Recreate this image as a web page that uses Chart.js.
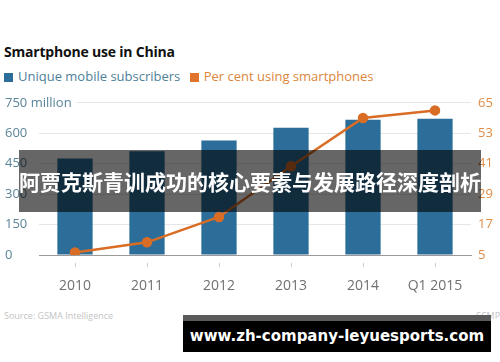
<!DOCTYPE html>
<html>
<head>
<meta charset="utf-8">
<script src="https://cdn.jsdelivr.net/npm/chart.js@4/dist/chart.umd.min.js"></script>
<style>
  body { margin: 0; background: #fff; width: 500px; height: 362px; overflow: hidden; position: relative; font-family: "Open Sans", sans-serif; }
  #title { position: absolute; left: 4px; top: 42px; font: 700 14px "Open Sans", sans-serif; letter-spacing: -0.2px; color: #111; }
  #legend { position: absolute; left: 4px; top: 67px; font: 13px "Open Sans", sans-serif; white-space: nowrap; }
  #legend span.box { display: inline-block; width: 9px; height: 9px; margin-right: 5px; vertical-align: -1px; }
  #wrap { position: absolute; left: 0; top: 88px; width: 500px; height: 220px; }
  #source { position: absolute; left: 4px; top: 309px; font: 9px "Open Sans", sans-serif; color: #c4c4c4; }
  #brand { position: absolute; left: 476px; top: 309px; font: 9px "Open Sans", sans-serif; color: #c4c4c4; }
  #band { position: absolute; left: 19px; top: 150px; width: 462px; height: 62px; background: rgba(0,0,0,0.6);
          color: #fff; font: 700 21px "Noto Sans CJK SC", sans-serif; line-height: 62px; text-align: center; white-space: nowrap; }
  #site { position: absolute; left: 183px; top: 315px; width: 308px; height: 37px; background: #000; border-top: 6px solid #5a5a5a; box-sizing: border-box;
          color: #fff; font: 700 15px "DejaVu Sans", sans-serif; line-height: 31px; text-align: center; white-space: nowrap; }
</style>
</head>
<body>
<div id="title">Smartphone use in China</div>
<div id="legend">
  <span class="box" style="background:#2c6e99"></span><span style="color:#4f7f98">Unique mobile subscribers</span>
  <span class="box" style="background:#e0742a;margin-left:6px"></span><span style="color:#db863c">Per cent using smartphones</span>
</div>
<div id="wrap"><canvas id="smartChart"></canvas></div>
<div id="source">Source: GSMA Intelligence</div>
<div id="brand">SCMP</div>
<div id="band">阿贾克斯青训成功的核心要素与发展路径深度剖析</div>
<div id="site">www.zh-company-leyuesports.com</div>

<script>
// Data
const years = ['2010', '2011', '2012', '2013', '2014', 'Q1 2015'];
const subscribers = [475, 511, 564, 627, 667, 672];   // millions
const smartphoneShare = [6, 10, 20, 40, 59, 62];      // per cent
const leftTicks = [0, 150, 300, 450, 600, 750];
const rightTicks = [5, 17, 29, 41, 53, 65];

function initializeChart() {
    const ctx = document.getElementById('smartChart').getContext('2d');

    return new Chart(ctx, {
        type: 'bar',
        data: {
            labels: years,
            datasets: [
                {
                    type: 'line',
                    label: 'Per cent using smartphones',
                    data: smartphoneShare,
                    yAxisID: 'yRight',
                    borderColor: '#d96d25',
                    backgroundColor: '#d96d25',
                    borderWidth: 2.5,
                    pointRadius: 4,
                    pointHoverRadius: 4,
                    tension: 0,
                    order: 0,
                },
                {
                    label: 'Unique mobile subscribers',
                    data: subscribers,
                    yAxisID: 'yLeft',
                    backgroundColor: '#2c6e99',
                    categoryPercentage: 1,
                    barPercentage: 0.49,
                    order: 1,
                }
            ]
        },
        options: {
            responsive: true,
            maintainAspectRatio: false,
            animation: false,
            layout: { padding: { top: 14, left: 5, right: 0, bottom: 8 } },
            plugins: {
                legend: { display: false },
                tooltip: { enabled: false },
            },
            scales: {
                x: {
                    afterFit: scale => { scale.height = 45; },
                    grid: {
                        drawOnChartArea: false,
                        offset: false,
                        tickLength: 12,
                        tickColor: '#cccccc',
                        tickBorderDash: [0, 7, 6, 20],
                    },
                    border: { color: '#9a9a9a', width: 1 },
                    ticks: {
                        padding: 11,
                        color: '#707070',
                        font: { family: 'Open Sans', size: 14 },
                    },
                },
                yLeft: {
                    position: 'left',
                    min: 0,
                    max: 750,
                    afterFit: scale => { scale.width = 34; },
                    afterBuildTicks: scale => { scale.ticks = leftTicks.map(v => ({ value: v })); },
                    grid: { color: '#e6e6e6', drawTicks: false },
                    border: { display: false },
                    ticks: {
                        // mirror avoids the label clip, negative padding puts labels back at the far left
                        mirror: true,
                        padding: -34,
                        color: '#5a8499',
                        font: { family: 'Open Sans', size: 13 },
                        showLabelBackdrop: true,
                        backdropColor: '#ffffff',
                        backdropPadding: { top: 0, bottom: 0, left: 0, right: 5 },
                        callback: v => v === 750 ? '750 million' : v,
                    },
                },
                yRight: {
                    position: 'right',
                    min: 5,
                    max: 65,
                    afterFit: scale => { scale.width = 29; },
                    afterBuildTicks: scale => { scale.ticks = rightTicks.map(v => ({ value: v })); },
                    grid: { drawOnChartArea: false, drawTicks: false },
                    border: { display: false },
                    ticks: {
                        padding: 7,
                        color: '#de8c46',
                        font: { family: 'Open Sans', size: 13 },
                    },
                },
            },
        },
    });
}

document.addEventListener('DOMContentLoaded', function () {
    initializeChart();
});
</script>
</body>
</html>
